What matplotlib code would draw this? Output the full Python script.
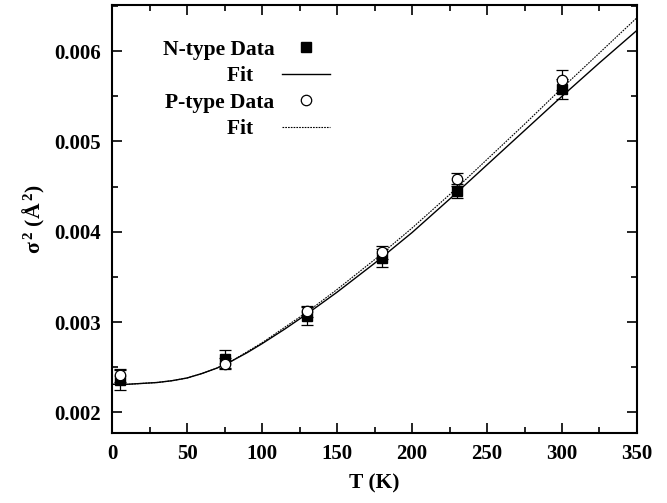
import matplotlib
matplotlib.use("Agg")
import matplotlib.pyplot as plt
from matplotlib.ticker import MultipleLocator, FormatStrFormatter

# ---------------------------------------------------------------------------
# DATOS

temp = [5, 75, 130, 180, 230, 300]
sigma_n = [0.00236, 0.00259, 0.00307, 0.00371, 0.00445, 0.00558]
err_n = [0.00011, 0.00010, 0.00010, 0.00010, 0.00008, 0.00011]
sigma_p = [0.00241, 0.00254, 0.00312, 0.00377, 0.00458, 0.00568]
err_p = [0.00007, 0.00006, 0.00006, 0.00007, 0.00007, 0.00011]

temp_fit = [0, 10, 20, 30, 40, 50, 60, 70, 80, 90, 100, 115, 130, 150, 175,
            200, 225, 250, 275, 300, 325, 350]
fit_n = [0.00231, 0.00231, 0.00232, 0.00233, 0.00235, 0.00238, 0.00243, 0.00249,
         0.00257, 0.00266, 0.00276, 0.00292, 0.00309, 0.00333, 0.00365,
         0.00399, 0.00436, 0.00474, 0.00512, 0.00550, 0.00587, 0.00623]
fit_p = [0.00231, 0.00231, 0.00232, 0.00233, 0.00235, 0.00238, 0.00243, 0.00249,
         0.00257, 0.00267, 0.00277, 0.00294, 0.00311, 0.00336, 0.00369,
         0.00404, 0.00441, 0.00480, 0.00519, 0.00559, 0.00598, 0.00637]

# ---------------------------------------------------------------------------
# GRAFICA

plt.rcParams['font.family'] = ['Liberation Serif', 'DejaVu Serif']
plt.rcParams['font.weight'] = 'bold'
plt.rcParams['mathtext.fontset'] = 'custom'
plt.rcParams['mathtext.rm'] = 'Liberation Serif:bold'
plt.rcParams['mathtext.default'] = 'rm'

fig = plt.figure(figsize=(6.67, 5.03), dpi=100)
ax = fig.add_axes([0.168, 0.139, 0.787, 0.851])

eb_n = ax.errorbar(temp, sigma_n, yerr=err_n, fmt='s', color='black', markersize=7,
                   elinewidth=0.9, capsize=4, capthick=0.9, zorder=3)
ln_n, = ax.plot(temp_fit, fit_n, '-', color='black', linewidth=1.0)
eb_p = ax.errorbar(temp, sigma_p, yerr=err_p, fmt='o', color='black', markerfacecolor='white',
                   markersize=7.5, markeredgewidth=0.9, elinewidth=0.9, capsize=4,
                   capthick=0.9, zorder=4)
ln_p, = ax.plot(temp_fit, fit_p, linestyle=(0, (1.5, 1)), color='black', linewidth=0.8)

ax.set_xlim(0, 350)
ax.set_ylim(0.00177, 0.00651)
ax.xaxis.set_major_locator(MultipleLocator(50))
ax.xaxis.set_minor_locator(MultipleLocator(25))
ax.yaxis.set_major_locator(MultipleLocator(0.001))
ax.yaxis.set_minor_locator(MultipleLocator(0.0005))
ax.yaxis.set_major_formatter(FormatStrFormatter('%.3f'))

ax.tick_params(which='both', direction='in', top=True, right=True, width=1.2,
               labelsize=15, pad=8)
ax.tick_params(which='major', length=7)
ax.tick_params(which='minor', length=4)
for s in ax.spines.values():
    s.set_linewidth(1.5)

ax.set_xlabel('T (K)', fontsize=15.5, fontweight='bold', labelpad=7)
ax.set_ylabel('σ$^{\\,2}$ (Å$^{\\,2}$)', fontsize=15.5, fontweight='bold', labelpad=5)

# con markerfirst=False las filas quedan alineadas a la derecha
handles = [eb_n[0], ln_n, eb_p[0], ln_p]
labels = ['N-type Data', 'Fit    ', 'P-type Data', 'Fit    ']
leg = ax.legend(handles, labels, loc='upper left', bbox_to_anchor=(0.076, 0.944),
                frameon=False, markerfirst=False, fontsize=15.5, handlelength=2.2,
                handletextpad=0.37, labelspacing=0.3, borderpad=0)

fig.savefig('out.png', dpi=100)
